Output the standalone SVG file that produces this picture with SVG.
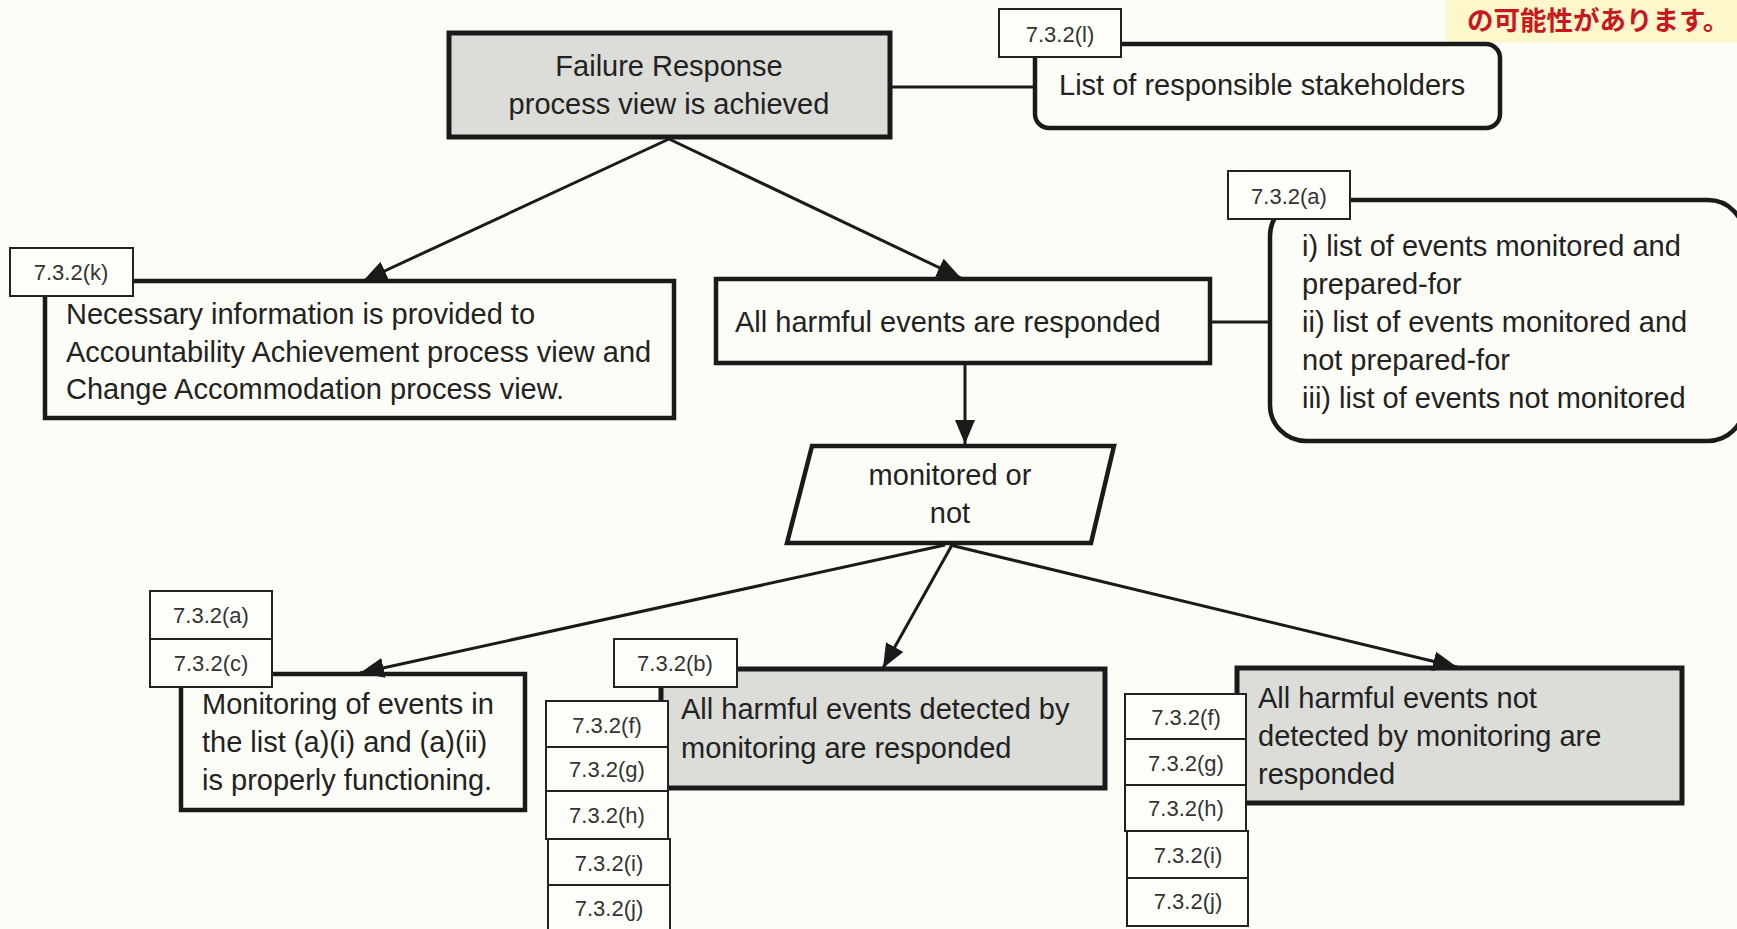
<svg xmlns="http://www.w3.org/2000/svg" width="1737" height="929" viewBox="0 0 1737 929">
<defs>
<style>
.bg{fill:#fdfdf8}
.box{fill:#fdfdf8;stroke:#1a1a1a;stroke-width:4.5}
.gray{fill:#dcdcd8;stroke:#1a1a1a;stroke-width:5}
.lbl{fill:#fefefb;stroke:#222;stroke-width:2}
.t{font-family:"Liberation Sans",Arial,sans-serif;font-size:29px;fill:#222}
.tl{font-family:"Liberation Sans",Arial,sans-serif;font-size:22px;fill:#333;text-anchor:middle}
.c{text-anchor:middle}
.conn{stroke:#1a1a1a;stroke-width:3;fill:none}
</style>
<marker id="arr" viewBox="0 0 24 20" refX="24" refY="10" markerWidth="24" markerHeight="20" markerUnits="userSpaceOnUse" orient="auto">
<path d="M0,0 L24,10 L0,20 z" fill="#1a1a1a"/>
</marker>
</defs>
<rect class="bg" x="0" y="0" width="1737" height="929"/>

<g id="note">
<rect x="1446" y="0" width="291" height="43" fill="#fdf8cc"/>
<text x="1467" y="30" font-family="'Noto Sans CJK JP','Noto Sans CJK SC',sans-serif" font-size="26.5" font-weight="bold" fill="#c8171e">の可能性があります。</text>
</g>

<g id="n-root">
<rect class="gray" x="449" y="33" width="441" height="104"/>
<text class="t c" x="669" y="76" font-size="28">Failure Response</text>
<text class="t c" x="669" y="114" font-size="28">process view is achieved</text>
</g>

<g id="n-stakeholders">
<rect class="box" x="1035" y="44" width="465" height="84" rx="14"/>
<text class="t" x="1059" y="95">List of responsible stakeholders</text>
<rect class="lbl" x="999" y="9" width="122" height="48"/>
<text class="tl" x="1060" y="42">7.3.2(l)</text>
</g>

<g id="n-necessary">
<rect class="box" x="45" y="281" width="629" height="137"/>
<text class="t" x="66" y="324">Necessary information is provided to</text>
<text class="t" x="66" y="362">Accountability Achievement  process view and</text>
<text class="t" x="66" y="399">Change Accommodation process view.</text>
<rect class="lbl" x="10" y="248" width="123" height="48"/>
<text class="tl" x="71" y="280">7.3.2(k)</text>
</g>

<g id="n-responded">
<rect class="box" x="716" y="279" width="494" height="84"/>
<text class="t" x="735" y="332">All harmful events are responded</text>
</g>

<g id="n-lists">
<rect class="box" x="1270" y="200" width="474" height="241" rx="36"/>
<text class="t" x="1302" y="256">i) list of events monitored and</text>
<text class="t" x="1302" y="294">prepared-for</text>
<text class="t" x="1302" y="332">ii) list of events monitored and</text>
<text class="t" x="1302" y="370">not prepared-for</text>
<text class="t" x="1302" y="408">iii) list of events not monitored</text>
<rect class="lbl" x="1228" y="171" width="122" height="48"/>
<text class="tl" x="1289" y="204">7.3.2(a)</text>
</g>

<g id="n-monitored">
<polygon class="box" points="812,446 1114,446 1091,543 787,543"/>
<text class="t c" x="950" y="485">monitored or</text>
<text class="t c" x="950" y="523">not</text>
</g>

<g id="n-monitoring">
<rect class="box" x="181" y="674" width="344" height="136"/>
<text class="t" x="202" y="714" font-size="30">Monitoring of events in</text>
<text class="t" x="202" y="752" font-size="30">the list (a)(i) and (a)(ii)</text>
<text class="t" x="202" y="790" font-size="30">is properly functioning.</text>
<rect class="lbl" x="150" y="591" width="122" height="48"/>
<text class="tl" x="211" y="623">7.3.2(a)</text>
<rect class="lbl" x="150" y="639" width="122" height="48"/>
<text class="tl" x="211" y="671">7.3.2(c)</text>
</g>

<g id="n-detected">
<rect class="gray" x="661" y="669" width="444" height="119"/>
<text class="t" x="681" y="719">All harmful events detected by</text>
<text class="t" x="681" y="758">monitoring are responded</text>
<rect class="lbl" x="614" y="639" width="123" height="48"/>
<text class="tl" x="675" y="671">7.3.2(b)</text>
<rect class="lbl" x="546" y="701" width="122" height="46"/>
<text class="tl" x="607" y="733">7.3.2(f)</text>
<rect class="lbl" x="546" y="747" width="122" height="44"/>
<text class="tl" x="607" y="777">7.3.2(g)</text>
<rect class="lbl" x="546" y="791" width="122" height="48"/>
<text class="tl" x="607" y="823">7.3.2(h)</text>
<rect class="lbl" x="548" y="839" width="122" height="46"/>
<text class="tl" x="609" y="871">7.3.2(i)</text>
<rect class="lbl" x="548" y="885" width="122" height="50"/>
<text class="tl" x="609" y="916">7.3.2(j)</text>
</g>

<g id="n-notdetected">
<rect class="gray" x="1237" y="668" width="445" height="135"/>
<text class="t" x="1258" y="708">All harmful events not</text>
<text class="t" x="1258" y="746">detected by monitoring are</text>
<text class="t" x="1258" y="784">responded</text>
<rect class="lbl" x="1125" y="694" width="121" height="45"/>
<text class="tl" x="1186" y="725">7.3.2(f)</text>
<rect class="lbl" x="1125" y="739" width="121" height="46"/>
<text class="tl" x="1186" y="771">7.3.2(g)</text>
<rect class="lbl" x="1125" y="785" width="121" height="46"/>
<text class="tl" x="1186" y="816">7.3.2(h)</text>
<rect class="lbl" x="1127" y="831" width="121" height="47"/>
<text class="tl" x="1188" y="863">7.3.2(i)</text>
<rect class="lbl" x="1127" y="878" width="121" height="48"/>
<text class="tl" x="1188" y="909">7.3.2(j)</text>
</g>

<g id="connectors">
<line class="conn" x1="892" y1="87" x2="1033" y2="87"/>
<line class="conn" x1="1212" y1="322" x2="1268" y2="322"/>
<line class="conn" x1="669" y1="139" x2="363" y2="281" marker-end="url(#arr)"/>
<line class="conn" x1="669" y1="139" x2="961" y2="278" marker-end="url(#arr)"/>
<line class="conn" x1="965" y1="365" x2="965" y2="444" marker-end="url(#arr)"/>
<line class="conn" x1="945" y1="545" x2="360" y2="673" marker-end="url(#arr)"/>
<line class="conn" x1="952" y1="545" x2="883" y2="668" marker-end="url(#arr)"/>
<line class="conn" x1="950" y1="545" x2="1457" y2="667" marker-end="url(#arr)"/>
</g>
</svg>
